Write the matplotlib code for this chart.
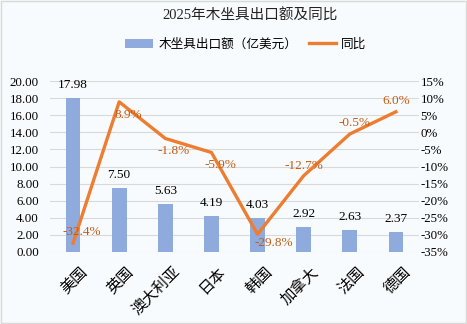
import matplotlib
matplotlib.use("Agg")
import matplotlib.pyplot as plt
from matplotlib.patches import Rectangle, Patch
from matplotlib.lines import Line2D
import matplotlib.transforms as mtransforms

plt.rcParams['font.family'] = ['Liberation Serif', 'Noto Sans CJK SC', 'DejaVu Sans']

categories = ["美国", "英国", "澳大利亚", "日本", "韩国", "加拿大", "法国", "德国"]
export_values = [17.98, 7.50, 5.63, 4.19, 4.03, 2.92, 2.63, 2.37]
yoy_values = [-32.4, 8.9, -1.8, -5.9, -29.8, -12.7, -0.5, 6.0]
left_ticks = [0, 2, 4, 6, 8, 10, 12, 14, 16, 18, 20]
right_ticks = [-35, -30, -25, -20, -15, -10, -5, 0, 5, 10, 15]

# pixel offsets for yoy labels (dx, dy)
label_offsets = [(9, 11), (9, -13), (8, -13), (9, -13), (16, -9), (0, 10), (5, 11), (0, 11)]

bg = '#F8FBFD'
bar_color = '#8FAADC'
line_color = '#ED7D31'
label_color = '#C55A11'

fig = plt.figure(figsize=(4.67, 3.24), dpi=100, facecolor=bg)
ax = fig.add_axes([50/467, 1-252/324, 369/467, 171/324])
ax.set_facecolor(bg)
x = list(range(len(categories)))
ax.bar(x, export_values, width=0.32, color=bar_color, zorder=2)
ax.set_ylim(0, 20)
ax.set_xlim(-0.5, len(categories)-0.5)
ax.set_yticks(left_ticks)
ax.set_yticklabels([f"{v:.2f}" for v in left_ticks], fontsize=9.3)
ax.grid(axis='y', color='#D9D9D9', linewidth=0.8, zorder=0)
ax.set_axisbelow(True)
for s in ax.spines.values():
    s.set_visible(False)
ax.tick_params(axis='y', length=0, pad=8)
ax.tick_params(axis='x', length=0, pad=8)
ax.set_xticks(x)
ax.set_xticklabels(categories, rotation=45, ha='right', va='top', rotation_mode='anchor',
                   fontsize=11, family=['Noto Sans CJK SC'])
shift = mtransforms.ScaledTranslation(6/100, 0, fig.dpi_scale_trans)
for lbl in ax.get_xticklabels():
    lbl.set_transform(lbl.get_transform() + shift)
for xi, v in zip(x, export_values):
    ax.annotate(f"{v:.2f}", (xi, v), xytext=(0, 5), textcoords='offset points',
                ha='center', va='bottom', fontsize=9.5, color='#000000')

ax2 = ax.twinx()
ax2.set_ylim(-35, 15)
ax2.set_yticks(right_ticks)
ax2.set_yticklabels([f"{v}%" for v in right_ticks], fontsize=9.3)
ax2.tick_params(axis='y', length=0, pad=1)
for s in ax2.spines.values():
    s.set_visible(False)
ax2.plot(x, yoy_values, color=line_color, linewidth=2.4, solid_joinstyle='round', zorder=3)
for xi, v, (dx, dy) in zip(x, yoy_values, label_offsets):
    ax2.annotate(f"{v:.1f}%", (xi, v), xytext=(dx*0.72, dy*0.72), textcoords='offset points',
                 ha='center', va='center', fontsize=9.5, color=label_color)

fig.text(250/467, 1-16/324, "2025年木坐具出口额及同比", ha='center', va='center', fontsize=10.5,
         color='#222222')

handles = [Patch(facecolor=bar_color, edgecolor='none'),
           Line2D([0], [0], color=line_color, linewidth=2.4)]
fig.legend(handles, ["木坐具出口额（亿美元）", "同比"], loc='center', bbox_to_anchor=(246/467, 1-44/324),
           ncol=2, frameon=False, handlelength=2.2, columnspacing=0.9, handletextpad=0.4,
           prop={'family': ['Noto Sans CJK SC'], 'size': 9.1})

fig.add_artist(Rectangle((0.002, 0.003), 0.995, 0.993, transform=fig.transFigure, fill=False,
                         edgecolor='#D9D9D9', linewidth=1.0))

fig.savefig("out.png", dpi=100, facecolor=bg)
